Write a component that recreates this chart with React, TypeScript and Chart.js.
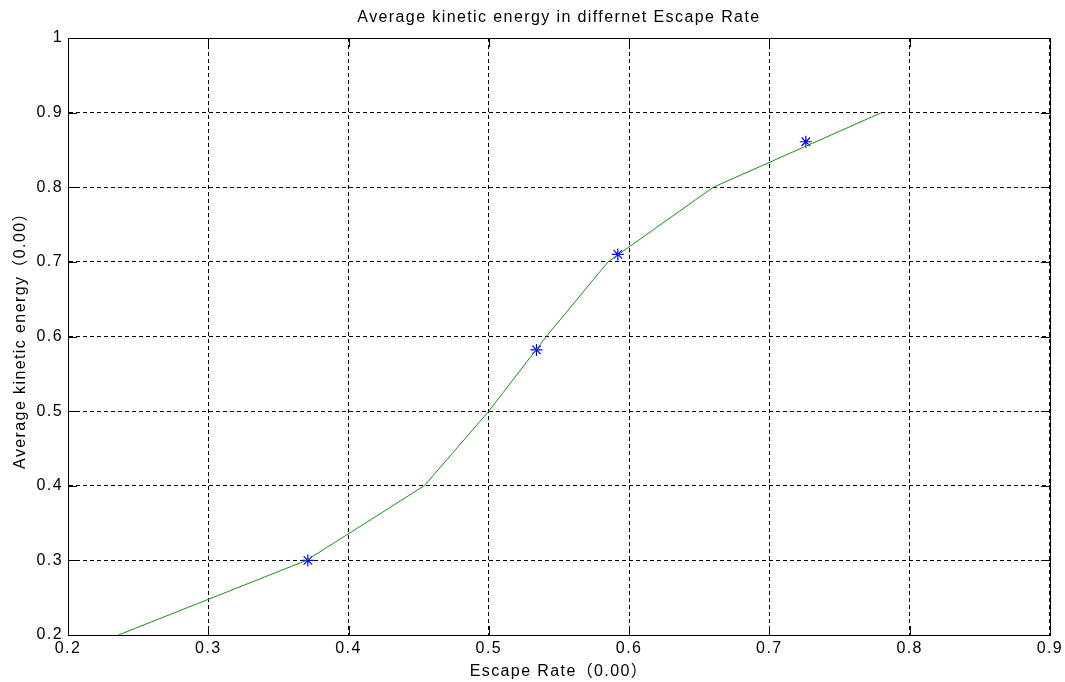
import React, { useEffect, useRef } from 'react';
import { Chart, registerables } from 'chart.js';

Chart.register(...registerables);

// ---- data ----
const curveX = [0.236, 0.37, 0.454, 0.5, 0.541, 0.585, 0.66, 0.78];
const curveY = [0.2, 0.3, 0.4, 0.5, 0.6, 0.7, 0.8, 0.9];
const markX = [0.371, 0.534, 0.592, 0.726];
const markY = [0.3, 0.582, 0.71, 0.861];
const xTicks = [0.2, 0.3, 0.4, 0.5, 0.6, 0.7, 0.8, 0.9];
const yTicks = [0.2, 0.3, 0.4, 0.5, 0.6, 0.7, 0.8, 0.9, 1];
const titleText = 'Average kinetic energy in differnet Escape Rate';
const xLabel = 'Escape Rate（0.00）';
const yLabel = 'Average kinetic energy（0.00）';

const FONT = '"Liberation Sans", Arial, "Noto Sans CJK SC", sans-serif';
const FS = 16;

const framePlugin = {
  id: 'frame',
  beforeDraw(chart: any) {
    chart.ctx.letterSpacing = '1.4px';
  },
  afterDraw(chart: any) {
    const { ctx, chartArea, scales } = chart;
    const { left, right, top, bottom } = chartArea;
    const tl = 9;
    ctx.save();
    ctx.letterSpacing = '0px';
    ctx.setLineDash([]);
    ctx.strokeStyle = '#000';
    ctx.lineWidth = 1;
    ctx.beginPath();
    xTicks.forEach((v) => {
      const p = Math.round(scales.x.getPixelForValue(v)) + 0.5;
      ctx.moveTo(p, bottom);
      ctx.lineTo(p, bottom - tl);
      ctx.moveTo(p, top);
      ctx.lineTo(p, top + tl);
    });
    yTicks.forEach((v) => {
      const p = Math.round(scales.y.getPixelForValue(v)) + 0.5;
      ctx.moveTo(left, p);
      ctx.lineTo(left + tl, p);
      ctx.moveTo(right, p);
      ctx.lineTo(right - tl, p);
    });
    ctx.stroke();
    ctx.strokeRect(
      Math.round(left) + 0.5,
      Math.round(top) + 0.5,
      Math.round(right) - Math.round(left),
      Math.round(bottom) - Math.round(top)
    );
    ctx.restore();
    ctx.letterSpacing = '0px';
  },
};

export default function App() {
  const ref = useRef<HTMLCanvasElement | null>(null);

  useEffect(() => {
    if (!ref.current) return;
    const fmt = (v: any) => String(+Number(v).toFixed(1));
    const chart = new Chart(ref.current, {
      type: 'scatter',
      data: {
        datasets: [
          {
            data: curveX.map((x, i) => ({ x, y: curveY[i] })),
            showLine: true,
            borderColor: 'rgb(20,150,20)',
            backgroundColor: 'rgb(20,150,20)',
            borderWidth: 1,
            pointRadius: 0,
            tension: 0,
          },
          {
            data: markX.map((x, i) => ({ x, y: markY[i] })),
            showLine: false,
            pointStyle: 'star',
            pointRadius: 6,
            borderColor: '#0000ff',
            backgroundColor: '#0000ff',
            borderWidth: 1.2,
          },
        ],
      },
      options: {
        responsive: false,
        devicePixelRatio: 1,
        animation: false,
        layout: { padding: { left: 0, right: 14, top: 0, bottom: 0 } },
        plugins: {
          legend: { display: false },
          tooltip: { enabled: false },
          title: {
            display: true,
            fullSize: false,
            text: titleText,
            color: '#000',
            font: { family: FONT, size: FS, weight: 'normal', lineHeight: 1.2 },
            padding: { top: 8, bottom: 10.8 },
          },
        },
        scales: {
          x: {
            type: 'linear',
            position: 'bottom',
            min: 0.2,
            max: 0.9,
            afterBuildTicks: (s: any) => {
              s.ticks = xTicks.map((value) => ({ value }));
            },
            afterFit: (s: any) => {
              s.height = 47;
            },
            grid: { color: '#000', lineWidth: 1, drawTicks: false },
            border: { display: true, color: '#000', dash: [4, 3] },
            ticks: {
              color: '#000',
              padding: 4,
              maxRotation: 0,
              autoSkip: false,
              font: { family: FONT, size: FS },
              callback: fmt,
            },
            title: {
              display: true,
              text: xLabel,
              color: '#000',
              font: { family: FONT, size: FS, lineHeight: 1.2 },
              padding: { top: 0, bottom: 0.5 },
            },
          },
          y: {
            type: 'linear',
            position: 'left',
            min: 0.2,
            max: 1,
            afterBuildTicks: (s: any) => {
              s.ticks = yTicks.map((value) => ({ value }));
            },
            afterFit: (s: any) => {
              s.width = 68;
            },
            grid: { color: '#000', lineWidth: 1, drawTicks: false },
            border: { display: true, color: '#000', dash: [4, 3] },
            ticks: {
              color: '#000',
              padding: 5,
              autoSkip: false,
              font: { family: FONT, size: FS },
              callback: fmt,
            },
            title: {
              display: true,
              text: yLabel,
              color: '#000',
              font: { family: FONT, size: FS, lineHeight: 1.2 },
              padding: { top: 11, bottom: 0 },
            },
          },
        },
      },
      plugins: [framePlugin],
    } as any);
    return () => chart.destroy();
  }, []);

  return (
    <div style={{ position: 'absolute', left: 0, top: 0, width: 1065, height: 682, background: '#fff' }}>
      <canvas ref={ref} width={1065} height={682} style={{ display: 'block' }} />
    </div>
  );
}
